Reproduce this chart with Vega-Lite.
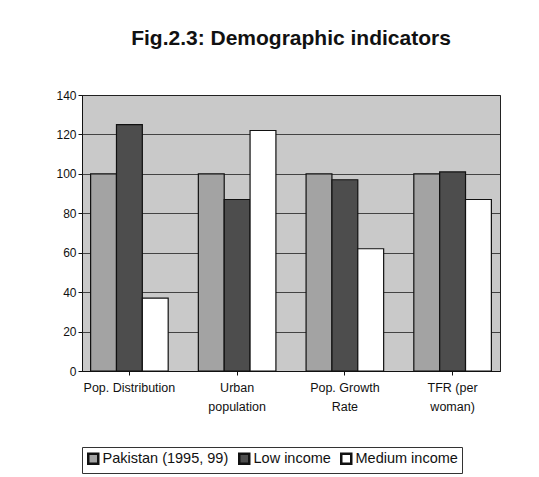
{
  "$schema": "https://vega.github.io/schema/vega-lite/v6.json",
  "width": 418,
  "height": 276,
  "padding": {"left": 55, "top": 28, "right": 35, "bottom": 2},
  "background": "white",
  "title": {"text": "Fig.2.3: Demographic indicators", "font": "Liberation Sans", "fontSize": 21, "fontWeight": "bold", "color": "#111", "offset": 40, "anchor": "middle"},
  "config": {"view": {"fill": "#c9c9c9", "stroke": "#222", "strokeWidth": 1}, "font": "Liberation Sans"},
  "data": {"values": [
    {"indicator": "Pop. Distribution", "series": "Pakistan (1995, 99)", "value": 100},
    {"indicator": "Pop. Distribution", "series": "Low income", "value": 125},
    {"indicator": "Pop. Distribution", "series": "Medium income", "value": 37},
    {"indicator": "Urban population", "series": "Pakistan (1995, 99)", "value": 100},
    {"indicator": "Urban population", "series": "Low income", "value": 87},
    {"indicator": "Urban population", "series": "Medium income", "value": 122},
    {"indicator": "Pop. Growth Rate", "series": "Pakistan (1995, 99)", "value": 100},
    {"indicator": "Pop. Growth Rate", "series": "Low income", "value": 97},
    {"indicator": "Pop. Growth Rate", "series": "Medium income", "value": 62},
    {"indicator": "TFR (per woman)", "series": "Pakistan (1995, 99)", "value": 100},
    {"indicator": "TFR (per woman)", "series": "Low income", "value": 101},
    {"indicator": "TFR (per woman)", "series": "Medium income", "value": 87}
  ]},
  "mark": {"type": "bar", "stroke": "#111", "strokeWidth": 1.2},
  "encoding": {
    "x": {"field": "indicator", "type": "nominal", "sort": ["Pop. Distribution", "Urban population", "Pop. Growth Rate", "TFR (per woman)"],
      "scale": {"paddingInner": 0.28, "paddingOuter": 0.08},
      "axis": {"title": null, "labelAngle": 0, "labelFont": "Liberation Sans", "labelFontSize": 12.5, "labelColor": "#111", "domainColor": "#111", "tickColor": "#111", "tickSize": 4, "labelPadding": 6,
        "labelExpr": "datum.label == 'Urban population' ? ['Urban', 'population'] : datum.label == 'Pop. Growth Rate' ? ['Pop. Growth', 'Rate'] : datum.label == 'TFR (per woman)' ? ['TFR (per', 'woman)'] : datum.label", "labelLineHeight": 19}},
    "xOffset": {"field": "series", "type": "nominal", "sort": ["Pakistan (1995, 99)", "Low income", "Medium income"], "scale": {"paddingInner": 0.0}},
    "y": {"field": "value", "type": "quantitative", "scale": {"domain": [0, 140]},
      "axis": {"title": null, "values": [0, 20, 40, 60, 80, 100, 120, 140], "labelFont": "Liberation Sans", "labelFontSize": 12, "labelColor": "#111", "domainColor": "#111", "tickColor": "#111", "gridColor": "#222", "gridOpacity": 0.8, "tickSize": 4}},
    "fill": {"field": "series", "type": "nominal", "sort": ["Pakistan (1995, 99)", "Low income", "Medium income"],
      "scale": {"domain": ["Pakistan (1995, 99)", "Low income", "Medium income"], "range": ["#a3a3a3", "#4d4d4d", "#ffffff"]},
      "legend": {"title": null, "orient": "bottom", "direction": "horizontal", "symbolType": "square", "symbolSize": 100, "symbolStrokeColor": "#111", "symbolStrokeWidth": 2.5, "labelFont": "Liberation Sans", "labelFontSize": 14.5, "labelColor": "#111", "strokeColor": "#333", "padding": 4, "offset": 34, "columnPadding": 5, "symbolOffset": 0, "labelOffset": 2}}
  }
}
